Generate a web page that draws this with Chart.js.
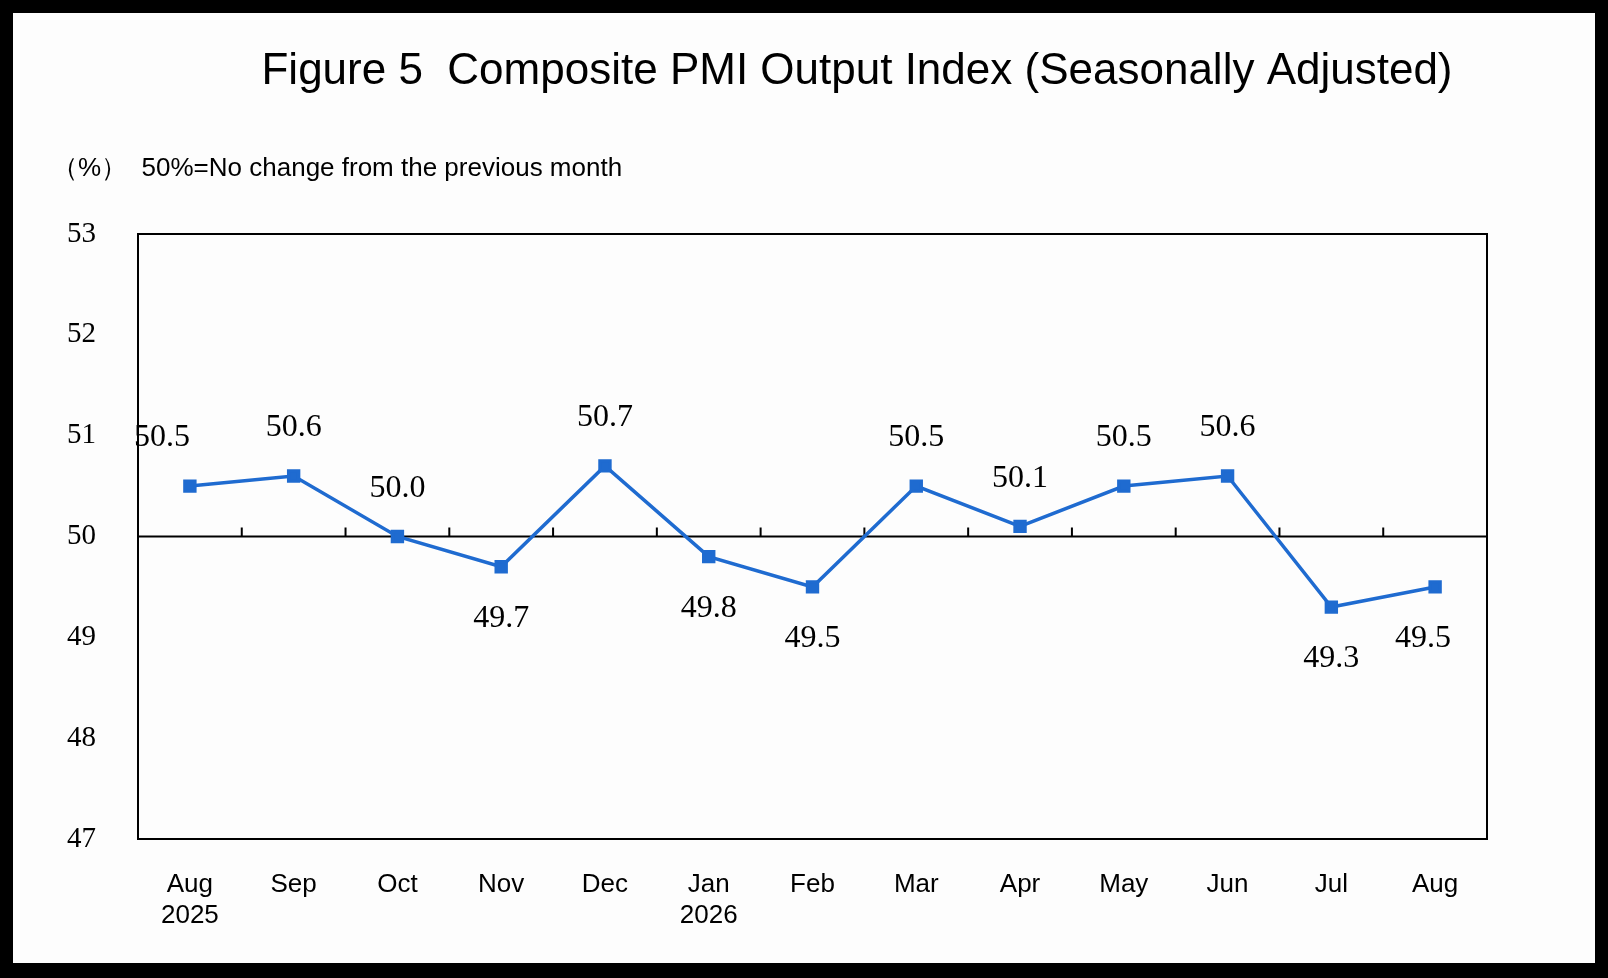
<!DOCTYPE html>
<html><head><meta charset="utf-8">
<script src="https://cdn.jsdelivr.net/npm/chart.js@4"></script>
<style>body{margin:0;background:#000}#wrap{width:1608px;height:978px}</style>
</head><body><div id="wrap"><canvas id="c"></canvas></div>
<script>
const months = [['Aug','2025'],'Sep','Oct','Nov','Dec',['Jan','2026'],'Feb','Mar','Apr','May','Jun','Jul','Aug'];
const values = [50.5,50.6,50.0,49.7,50.7,49.8,49.5,50.5,50.1,50.5,50.6,49.3,49.5];
// label placement: dx, dy from the point
const labelOffsets = [[-28,-48],[0,-48],[0,-48],[0,52],[0,-48],[0,52],[0,52],[0,-48],[0,-48],[0,-48],[0,-48],[0,52],[-12,52]];

const frame = {
  id:'frame',
  beforeDraw(chart){
    const g = chart.ctx;
    g.save();
    g.fillStyle='#000'; g.fillRect(0,0,chart.width,chart.height);
    g.fillStyle='#fdfdfd'; g.fillRect(13,13,chart.width-26,chart.height-28);
    g.fillStyle='#000';
    g.font='44px "Liberation Sans", Arial, sans-serif';
    g.textAlign='center'; g.textBaseline='middle';
    g.fillText('Figure 5  Composite PMI Output Index (Seasonally Adjusted)',857,72);
    g.font='26px "Liberation Sans", Arial, sans-serif';
    g.textAlign='left';
    g.fillText('（%）  50%=No change from the previous month',52,169);
    g.restore();
  },
  beforeDatasetsDraw(chart){
    const g = chart.ctx, a = chart.chartArea, x = chart.scales.x, y = chart.scales.y;
    const y50 = y.getPixelForValue(50);
    g.save();
    g.strokeStyle='#000'; g.lineWidth=2;
    g.strokeRect(a.left,a.top,a.right-a.left,a.bottom-a.top);
    g.beginPath(); g.moveTo(a.left,y50); g.lineTo(a.right,y50);
    const half = (x.getPixelForValue(1)-x.getPixelForValue(0))/2;
    for(let i=0;i<values.length-1;i++){
      const px = x.getPixelForValue(i)+half;
      g.moveTo(px,y50); g.lineTo(px,y50-9);
    }
    g.stroke();
    g.restore();
  },
  afterDatasetsDraw(chart){
    const g = chart.ctx, meta = chart.getDatasetMeta(0);
    g.save();
    g.fillStyle='#000'; g.font='32px "Liberation Serif", "Times New Roman", serif';
    g.textAlign='center'; g.textBaseline='middle';
    meta.data.forEach((p,i)=>{
      g.fillText(values[i].toFixed(1), p.x+labelOffsets[i][0], p.y+labelOffsets[i][1]);
    });
    g.restore();
  }
};

new Chart(document.getElementById('c'), {
  type:'line',
  data:{labels:months,datasets:[{data:values,borderColor:'#1f6bd0',backgroundColor:'#1f6bd0',borderWidth:3.5,
    pointStyle:'rect',pointRadius:7,pointHoverRadius:7,tension:0}]},
  options:{
    responsive:true,maintainAspectRatio:false,animation:false,
    layout:{padding:{left:0,top:234,right:121,bottom:0}},
    plugins:{legend:{display:false},tooltip:{enabled:false}},
    scales:{
      x:{offset:true,grid:{display:false},border:{display:false},
        ticks:{color:'#000',padding:22,maxRotation:0,autoSkip:false,font:{family:'"Liberation Sans", Arial, sans-serif',size:26}},
        afterFit(s){s.height=139;}},
      y:{min:47,max:53,grid:{display:false},border:{display:false},
        ticks:{stepSize:1,color:'#000',padding:34,font:{family:'"Liberation Serif", "Times New Roman", serif',size:29}},
        afterFit(s){s.width=138;}}
    }
  },
  plugins:[frame]
});
</script></body></html>
